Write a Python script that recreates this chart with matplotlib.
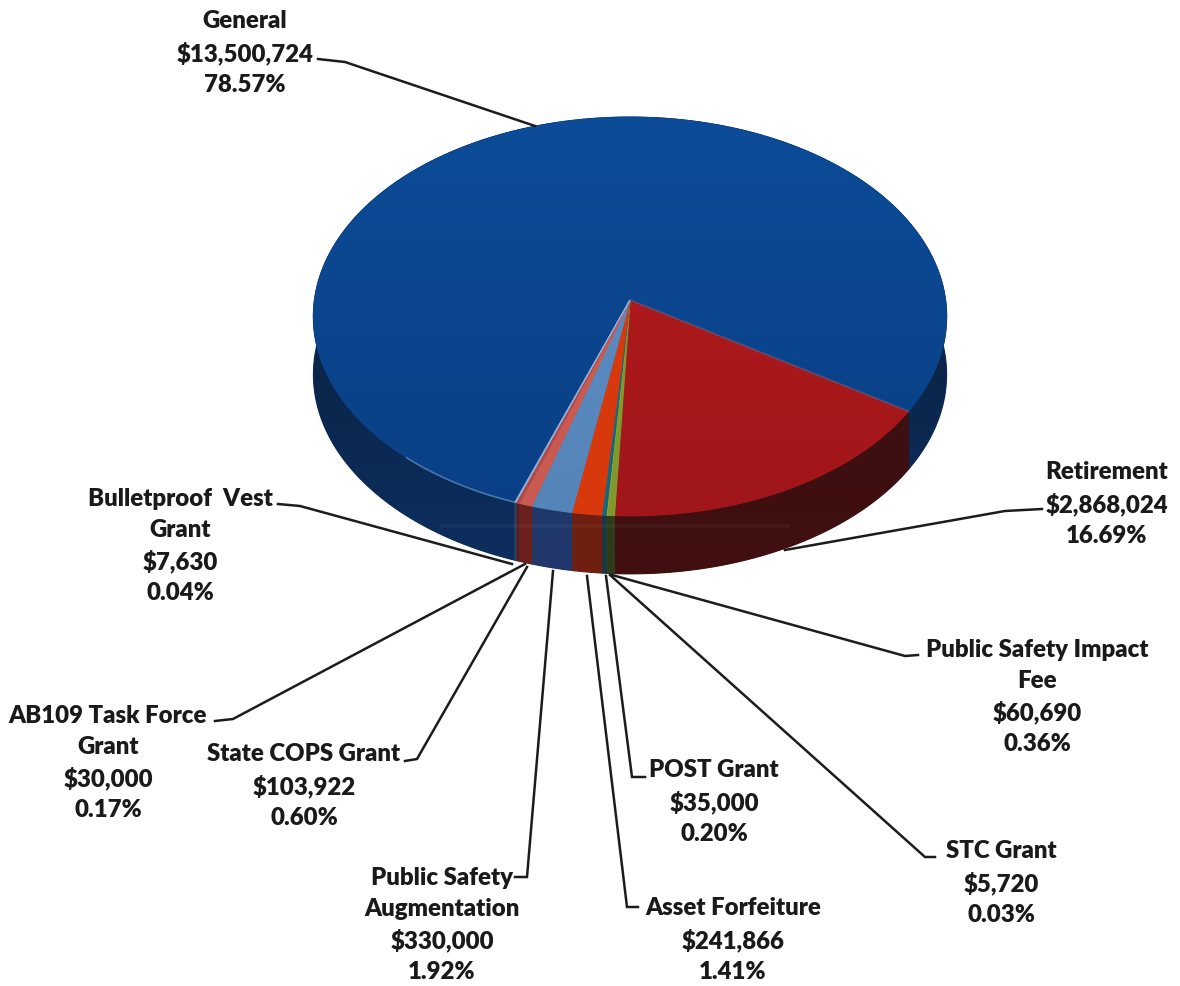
import numpy as np
import matplotlib
matplotlib.use('Agg')
import matplotlib.pyplot as plt
from matplotlib.colors import to_rgb
from matplotlib.patches import Polygon

plt.rcParams['font.family'] = ['Lato', 'DejaVu Sans']

# Budget by fund, clockwise from the right hand edge of Retirement
funds = ['Retirement', 'Public Safety Impact\nFee', 'STC Grant', 'POST Grant',
         'Asset Forfeiture', 'Public Safety\nAugmentation', 'State COPS Grant',
         'AB109 Task Force\nGrant', 'Bulletproof  Vest\nGrant', 'General']
amounts = [2868024, 60690, 5720, 35000, 241866, 330000, 103922, 30000, 7630, 13500724]
percents = [16.69, 0.36, 0.03, 0.20, 1.41, 1.92, 0.60, 0.17, 0.04, 78.57]

top_colors = ['#b81b1c', '#7f9a2c', '#c8a020', '#0f7488', '#d93a0e', '#5f90c8',
              '#cf5a50', '#b04a48', '#8fb0d8', '#0c4c98']
bottom_colors = ['#a0161a', '#7f9a2c', '#c8a020', '#0f6a80', '#d8390c', '#5585b8',
                 '#c95a52', '#b04a48', '#8fb0d8', '#0a3f84']
wall_top = ['#3a0f12', '#2f3a18', '#4a3a10', '#103a48', '#6a2010', '#1c3566',
            '#66201e', '#5a2020', '#264468', '#0a2446']
wall_bottom = ['#42100f', '#2f3a18', '#4a3a10', '#103a48', '#701f10', '#22386c',
               '#6c201c', '#5a2020', '#264468', '#0d2f60']

# where the text goes (x centre, y of first line) and the leader path
label_pos = [(1107, 461), (1037, 639), (1001, 840), (714, 759), (733, 897),
             (442, 867), (304, 743), (108, 705), (180, 488), (245, 10)]
leaders = [[(1042, 510), (1005, 512), (785, 551)],
           [(918, 656), (905, 657), (612, 576)],
           [(935, 858), (925, 858), (610, 576)],
           [(645, 778), (632, 778), (606, 577)],
           [(638, 908), (627, 908), (587, 577)],
           [(515, 878), (527, 878), (553, 572)],
           [(405, 762), (417, 760), (527, 568)],
           [(215, 722), (233, 720), (525, 565)],
           [(278, 505), (300, 507), (512, 565)],
           [(318, 60), (345, 63), (535, 127)]]

# pie geometry in pixels, the top face is a disc seen in perspective
apex_x, apex_y = 630, 301
half_w, half_h = 315.5, 198
persp = 0.0827
depth = 58
start_angle = 32.5


def project(theta, r=1.0):
    '''degrees clockwise from the right on the disc -> pixel position'''
    u = r * np.cos(np.radians(theta))
    v = r * np.sin(np.radians(theta))
    w = 1 - persp * v
    return apex_x + half_w * u / w, apex_y + half_h * v / w


def gradient_fill(ax, pts, stops, y0, y1, zorder):
    '''vertical colour ramp clipped to a polygon, with a flat patch under it to hide seams'''
    ax.add_patch(Polygon(pts, closed=True, fc=stops[-1], ec=stops[-1], lw=0.8, zorder=zorder))
    rows = np.linspace(0, 1, 256)
    c = np.array([to_rgb(s) for s in stops])
    pos = np.linspace(0, 1, len(stops))
    img = np.stack([np.interp(rows, pos, c[:, i]) for i in range(3)], axis=1)[:, None, :]
    im = ax.imshow(img, extent=(0, 1180, y1, y0), aspect='auto', zorder=zorder,
                   interpolation='bilinear')
    im.set_clip_path(Polygon(pts, closed=True, transform=ax.transData))


fig = plt.figure(figsize=(11.8, 9.87), dpi=100)
ax = fig.add_axes([0, 0, 1, 1])

edges = start_angle + np.cumsum([0] + amounts) / sum(amounts) * 360

# side wall first, the top face covers whatever is behind it
order = [9] + list(range(9))
for i in order:
    t = np.linspace(edges[i], edges[i + 1], 300)
    x, y = project(t)
    pts = np.r_[np.c_[x, y], np.c_[x, y + depth][::-1]]
    gradient_fill(ax, pts, [wall_top[i], wall_bottom[i]], 340, 575, 1)

# faint highlight running across the front of the wall
ax.plot([440, 790], [527, 527], color='white', alpha=0.04, lw=3, zorder=2, solid_capstyle='butt')

# top face
for i in order:
    t = np.linspace(edges[i], edges[i + 1], 300)
    x, y = project(t)
    pts = np.r_[[[apex_x, apex_y]], np.c_[x, y]]
    gradient_fill(ax, pts, [top_colors[i], bottom_colors[i]], 118, 517, 3)

# light rim and slice edges
x, y = project(np.linspace(edges[9], edges[9] + 22, 60))
ax.plot(x, y, color='#5f8fc4', lw=1.2, alpha=0.7, zorder=4)
x, y = project(edges[0])
ax.plot([apex_x, x], [apex_y, y], color='#3a6ea8', lw=1.2, alpha=0.6, zorder=4)

for path in leaders:
    xs, ys = zip(*path)
    ax.plot(xs, ys, color='#1c1c1c', lw=1.8, zorder=5, solid_joinstyle='miter')

for name, amt, pct, (lx, ly) in zip(funds, amounts, percents, label_pos):
    text = f'{name}\n${amt:,}\n{pct:.2f}%'
    ax.text(lx, ly, text, ha='center', va='top', fontsize=17.3,
            fontweight='heavy', color='#1a1a1a', linespacing=1.48, zorder=6)

ax.set_xlim(0, 1180)
ax.set_ylim(987, 0)
ax.axis('off')
fig.savefig('out.png', dpi=100)
